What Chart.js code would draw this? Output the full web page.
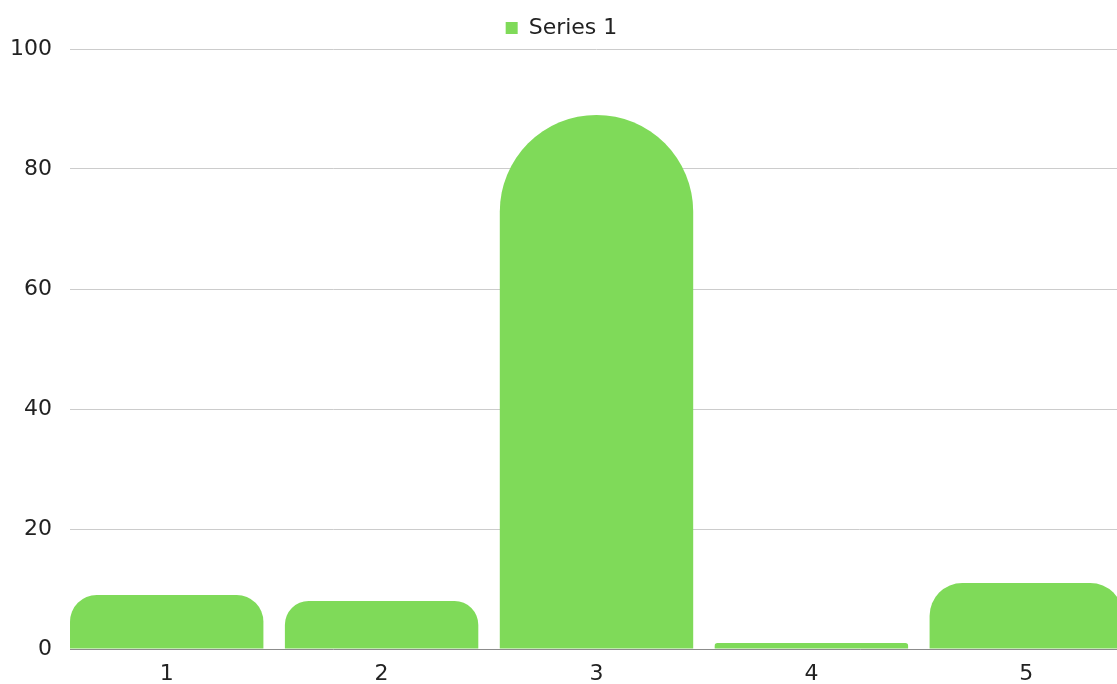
<!DOCTYPE html>
<html>
<head>
<meta charset="utf-8">
<script src="https://cdn.jsdelivr.net/npm/chart.js@4/dist/chart.umd.min.js"></script>
<style>
    body { margin: 0; overflow: hidden; background: #fff; }
    #wrap { position: absolute; left: 0; top: 0; width: 1193px; height: 700px; }
</style>
</head>
<body>
<div id="wrap"><canvas id="chart"></canvas></div>
<script>
const categories = ['1', '2', '3', '4', '5'];
const seriesName = 'Series 1';
const values = [9, 8, 89, 1, 11];
const yTicks = [0, 20, 40, 60, 80, 100];

const barColor = '#7fda59';
const fontFamily = "'DejaVu Sans', sans-serif";

let ctx = document.getElementById('chart');

new Chart(ctx, {
    type: 'bar',
    data: {
        datasets: [{
            label: seriesName,
            data: categories.map(function(c, i) {
                return { x: i + 1, y: values[i] };
            }),
            backgroundColor: barColor,
            borderWidth: 0,
            borderRadius: 200,
            categoryPercentage: 1,
            barPercentage: 0.9
        }]
    },
    options: {
        responsive: true,
        maintainAspectRatio: false,
        animation: false,
        layout: {
            padding: { left: 0, right: 70, top: 0, bottom: 0 }
        },
        plugins: {
            legend: {
                display: true,
                position: 'top',
                labels: {
                    color: '#222',
                    boxWidth: 12,
                    boxHeight: 12,
                    padding: 10,
                    font: { family: fontFamily, size: 22, lineHeight: 1.85 }
                }
            },
            tooltip: { enabled: false }
        },
        scales: {
            x: {
                type: 'linear',
                offset: false,
                min: 0.55,
                max: 5.45,
                afterBuildTicks: function(scale) {
                    scale.ticks = categories.map(function(c, i) {
                        return { value: i + 1 };
                    });
                },
                afterFit: function(scale) {
                    scale.height = 51;
                },
                grid: { display: false, drawTicks: false },
                border: { display: true, color: '#8c8c8c', width: 1 },
                ticks: {
                    color: '#222',
                    padding: 12,
                    autoSkip: false,
                    maxRotation: 0,
                    font: { family: fontFamily, size: 22 },
                    callback: function(v) {
                        return categories[v - 1];
                    }
                }
            },
            y: {
                min: 0,
                max: 100,
                afterBuildTicks: function(scale) {
                    scale.ticks = yTicks.map(function(v) {
                        return { value: v };
                    });
                },
                afterFit: function(scale) {
                    scale.width = 70;
                    scale.paddingTop = 49;
                },
                grid: { color: '#cccccc', drawTicks: false },
                border: { display: false },
                ticks: {
                    color: '#222',
                    padding: 18,
                    font: { family: fontFamily, size: 22 }
                }
            }
        }
    }
});
</script>
</body>
</html>
